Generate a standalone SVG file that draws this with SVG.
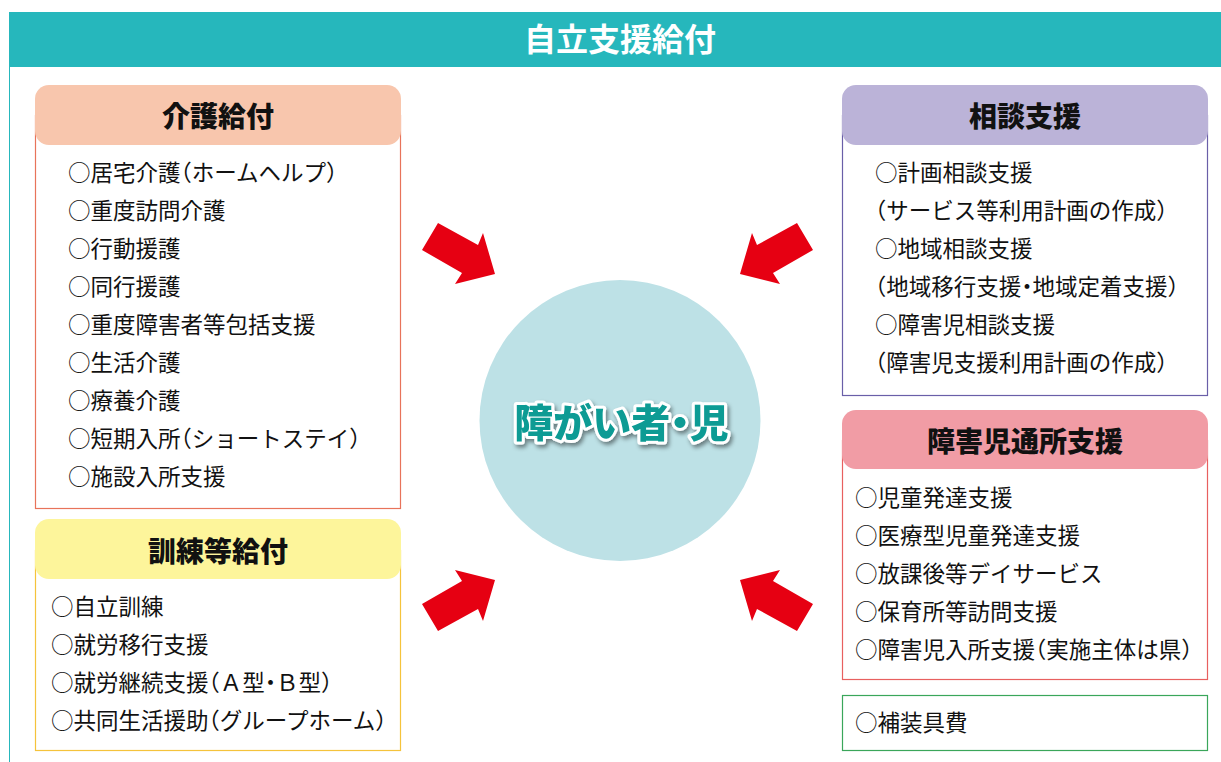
<svg xmlns="http://www.w3.org/2000/svg" width="1221" height="762" viewBox="0 0 1221 762">
<style>
text{font-family:"Noto Sans CJK JP","Noto Sans",sans-serif;fill:#111}
.item{font-size:22.5px}
.head{font-size:28px;font-weight:900;text-anchor:middle}
.title{font-size:32px;font-weight:700;fill:#fff;text-anchor:middle}
.h{font-feature-settings:"halt" 1}
.arrow{fill:#e60012}
</style>
<defs>
<filter id="sh" x="-20%" y="-40%" width="140%" height="180%">
<feDropShadow dx="2" dy="3" stdDeviation="2" flood-color="#000" flood-opacity="0.45"/>
</filter>
</defs>
<rect width="1221" height="762" fill="#fff"/>
<g id="frame">
<rect x="9" y="12" width="1212" height="55" fill="#26b7bc"/>
<line x1="9.5" y1="67" x2="9.5" y2="762" stroke="#26b7bc" stroke-width="1"/>
<text class="title" x="620" y="51">自立支援給付</text>
</g>
<g id="kaigo">
<rect x="35.5" y="115.5" width="365" height="393" fill="#fff" stroke="#e8735a" stroke-width="1.2"/>
<rect x="35" y="85" width="366" height="60" rx="14" fill="#f8c6ad"/>
<text class="head" x="218" y="127">介護給付</text>
<text class="item" x="68" y="181">○居宅介護<tspan class="h">（</tspan>ホームヘルプ）</text>
<text class="item" x="68" y="219">○重度訪問介護</text>
<text class="item" x="68" y="257">○行動援護</text>
<text class="item" x="68" y="295">○同行援護</text>
<text class="item" x="68" y="333">○重度障害者等包括支援</text>
<text class="item" x="68" y="371">○生活介護</text>
<text class="item" x="68" y="409">○療養介護</text>
<text class="item" x="68" y="447">○短期入所<tspan class="h">（</tspan>ショートステイ）</text>
<text class="item" x="68" y="485">○施設入所支援</text>
</g>
<g id="kunren">
<rect x="35.5" y="550.5" width="365" height="200" fill="#fff" stroke="#f5c33b" stroke-width="1.2"/>
<rect x="35" y="519" width="366" height="60" rx="14" fill="#fdf59b"/>
<text class="head" x="218" y="562">訓練等給付</text>
<text class="item" x="51" y="615">○自立訓練</text>
<text class="item" x="51" y="653">○就労移行支援</text>
<text class="item" x="51" y="691">○就労継続支援<tspan class="h">（</tspan>Ａ型<tspan class="h">・</tspan>Ｂ型）</text>
<text class="item" x="51" y="729">○共同生活援助<tspan class="h">（</tspan>グループホーム）</text>
</g>
<g id="soudan">
<rect x="842.5" y="115.5" width="365" height="280" fill="#fff" stroke="#6a5fa8" stroke-width="1.2"/>
<rect x="842" y="85" width="366" height="60" rx="14" fill="#bbb3d8"/>
<text class="head" x="1025" y="127">相談支援</text>
<text class="item" x="875" y="181">○計画相談支援</text>
<text class="item" x="875" y="219"><tspan class="h">（</tspan>サービス等利用計画の作成）</text>
<text class="item" x="875" y="257">○地域相談支援</text>
<text class="item" x="875" y="295"><tspan class="h">（</tspan>地域移行支援<tspan class="h">・</tspan>地域定着支援）</text>
<text class="item" x="875" y="333">○障害児相談支援</text>
<text class="item" x="875" y="371"><tspan class="h">（</tspan>障害児支援利用計画の作成）</text>
</g>
<g id="tsusho">
<rect x="842.5" y="440.5" width="365" height="239" fill="#fff" stroke="#e8605f" stroke-width="1.2"/>
<rect x="842" y="410" width="366" height="59" rx="14" fill="#f19ca5"/>
<text class="head" x="1025" y="452">障害児通所支援</text>
<text class="item" x="855" y="506">○児童発達支援</text>
<text class="item" x="855" y="544">○医療型児童発達支援</text>
<text class="item" x="855" y="582">○放課後等デイサービス</text>
<text class="item" x="855" y="620">○保育所等訪問支援</text>
<text class="item" x="855" y="658">○障害児入所支援<tspan class="h">（</tspan>実施主体は県）</text>
</g>
<g id="hosougu">
<rect x="842.5" y="695.5" width="365" height="55" fill="#fff" stroke="#3aa65a" stroke-width="1.2"/>
<text class="item" x="855" y="731">○補装具費</text>
</g>
<g id="center">
<circle cx="620" cy="420.5" r="140.5" fill="#bde1e6"/>
<text x="621.5" y="437" font-size="39" font-weight="900" text-anchor="middle" stroke="#fff" stroke-width="6" stroke-linejoin="round" paint-order="stroke" filter="url(#sh)" style="fill:#0a9b94">障がい者<tspan class="h">・</tspan>児</text>
</g>
<g id="connectors">
<polygon class="arrow" points="422,250 438,223 478,245 483,233 495,274 455,284 462,273"/>
<polygon class="arrow" points="813,250 797,223 757,245 752,233 740,274 780,284 773,273"/>
<polygon class="arrow" points="422,604 438,631 478,609 483,621 495,580 455,570 462,581"/>
<polygon class="arrow" points="813,604 797,631 757,609 752,621 740,580 780,570 773,581"/>
</g>
</svg>
